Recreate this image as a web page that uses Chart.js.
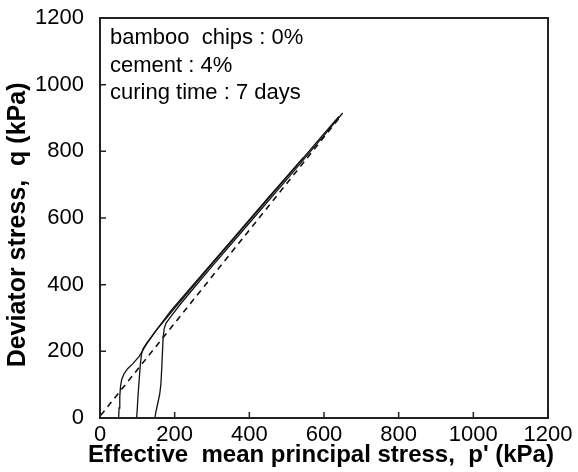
<!DOCTYPE html>
<html>
<head>
<meta charset="utf-8">
<script src="https://cdn.jsdelivr.net/npm/chart.js@4/dist/chart.umd.min.js"></script>
<style>
  html, body { margin: 0; padding: 0; background: #fff; }
  #wrap { width: 578px; height: 472px; }
</style>
</head>
<body>
<div id="wrap"><canvas id="qpChart"></canvas></div>
<script>
// stress paths, p' (kPa) and q (kPa)
const p50  = [50, 51, 53, 55, 58, 64, 74, 88, 105, 125, 150, 190, 250, 350, 450, 545]
const q50  = [0, 30, 65, 95, 115, 132, 148, 163, 185, 222, 262, 322, 400, 530, 660, 782]

const p100 = [98, 100, 102, 105, 108, 111, 115, 125, 150, 200, 300, 400, 500, 600, 640]
const q100 = [0, 30, 70, 115, 160, 190, 207, 225, 262, 330, 462, 592, 722, 853, 905]

const p150 = [147, 150, 155, 160, 163, 165, 167, 169, 172, 177, 190, 220, 300, 400, 500, 600, 650]
const q150 = [0, 20, 45, 72, 100, 140, 190, 240, 268, 285, 305, 348, 455, 585, 715, 848, 915]

// dashed line
const pCsl = [2, 648]
const qCsl = [8, 910]

const xTicks = [0, 200, 400, 600, 800, 1000, 1200]
const yTicks = [0, 200, 400, 600, 800, 1000, 1200]

const notes = ["bamboo  chips : 0%", "cement : 4%", "curing time : 7 days"]
const xTitulo = "Effective  mean principal stress,  p' (kPa)"

function pares(ps, qs){
    return ps.map((p, i) => ({ x: p, y: qs[i] }))
}

function linha(ps, qs, tracejado){
    return {
        data: pares(ps, qs),
        showLine: true,
        borderColor: "#111",
        borderWidth: tracejado ? 1.6 : 1.3,
        borderDash: tracejado ? [6, 5] : [],
        pointRadius: 0,
        tension: 0,
        fill: false
    }
}

// frame, inward ticks, the text box and the x title (wider than the axis)
const molduraPlugin = {
    id: "moldura",
    afterDraw(chart){
        const ctx = chart.ctx
        const a = chart.chartArea
        const sx = chart.scales.x
        const sy = chart.scales.y

        ctx.save()
        ctx.strokeStyle = "#222"
        ctx.lineWidth = 2
        ctx.strokeRect(a.left, a.top, a.right - a.left, a.bottom - a.top)

        ctx.lineWidth = 1.5
        ctx.beginPath()
        xTicks.forEach(v => {
            const px = sx.getPixelForValue(v)
            ctx.moveTo(px, a.bottom)
            ctx.lineTo(px, a.bottom - 6)
        })
        yTicks.forEach(v => {
            const py = sy.getPixelForValue(v)
            ctx.moveTo(a.left, py)
            ctx.lineTo(a.left + 6, py)
        })
        ctx.stroke()

        ctx.fillStyle = "#000"
        ctx.font = "22px 'Liberation Sans', Arial, sans-serif"
        ctx.textBaseline = "middle"
        notes.forEach((t, i) => {
            ctx.fillText(t, a.left + 10, a.top + 20 + i * 27.5)
        })

        ctx.font = "bold 24px 'Liberation Sans', Arial, sans-serif"
        ctx.textAlign = "center"
        ctx.fillText(xTitulo, (a.left + a.right) / 2 - 3, a.bottom + 37)
        ctx.restore()
    }
}

const fonteTick = { family: "'Liberation Sans', Arial, sans-serif", size: 22 }
const fonteTitulo = { family: "'Liberation Sans', Arial, sans-serif", size: 25, weight: "bold" }

new Chart(document.getElementById("qpChart").getContext("2d"), {
    type: "scatter",
    data: {
        datasets: [
            linha(p50, q50, false),
            linha(p100, q100, false),
            linha(p150, q150, false),
            linha(pCsl, qCsl, true)
        ]
    },
    options: {
        responsive: true,
        maintainAspectRatio: false,
        animation: false,
        layout: { padding: { top: 18, right: 30, left: 0, bottom: 0 } },
        plugins: {
            legend: { display: false },
            tooltip: { enabled: false }
        },
        scales: {
            x: {
                type: "linear",
                min: 0,
                max: 1200,
                afterFit(scale){
                    scale.height = 54
                    scale.paddingLeft = 0
                    scale.paddingRight = 0
                },
                afterBuildTicks(scale){ scale.ticks = xTicks.map(v => ({ value: v })) },
                grid: { display: false, drawTicks: false },
                border: { display: false },
                ticks: { color: "#000", font: fonteTick, padding: 4, maxRotation: 0, callback: v => String(v) },
                title: { display: false }
            },
            y: {
                type: "linear",
                min: 0,
                max: 1200,
                afterFit(scale){
                    scale.width = 100
                    scale.paddingTop = 0
                    scale.paddingBottom = 0
                },
                afterBuildTicks(scale){ scale.ticks = yTicks.map(v => ({ value: v })) },
                grid: { display: false, drawTicks: false },
                border: { display: false },
                ticks: { color: "#000", font: fonteTick, padding: 16, callback: v => String(v) },
                title: {
                    display: true,
                    text: "Deviator stress,  q (kPa)  ",
                    color: "#000",
                    font: fonteTitulo,
                    padding: { top: 3, bottom: 0 }
                }
            }
        }
    },
    plugins: [molduraPlugin]
})
</script>
</body>
</html>
